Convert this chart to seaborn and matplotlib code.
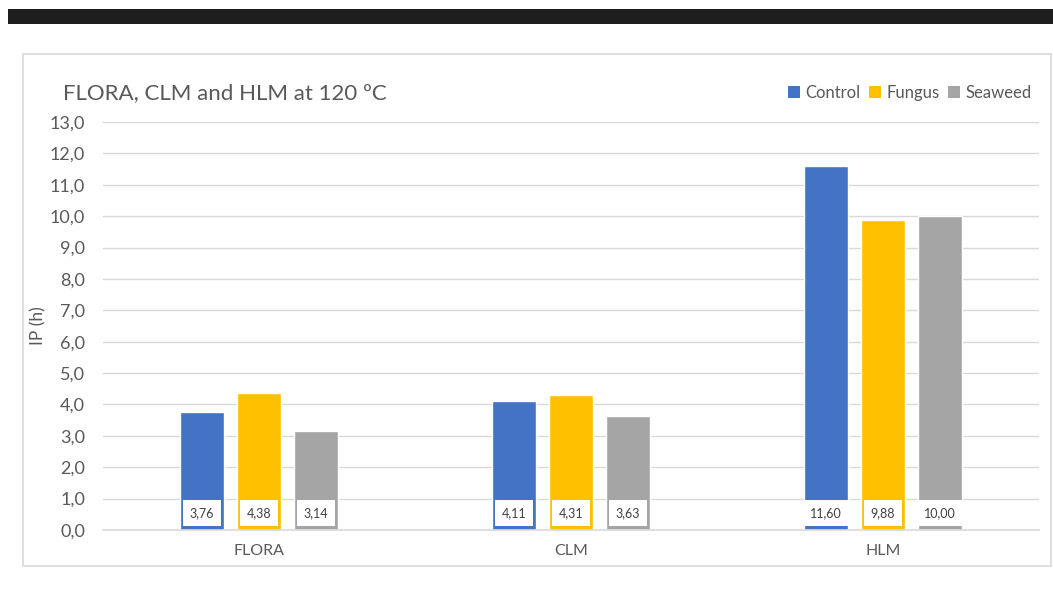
import matplotlib
matplotlib.use("Agg")
import matplotlib.pyplot as plt
from matplotlib.patches import Rectangle, Patch
from matplotlib.ticker import FuncFormatter, MultipleLocator
import pandas as pd
import seaborn as sns

# Induction period data (hours)
groups = ["FLORA", "CLM", "HLM"]
treatments = ["Control", "Fungus", "Seaweed"]
control = [3.76, 4.11, 11.60]
fungus = [4.38, 4.31, 9.88]
seaweed = [3.14, 3.63, 10.00]
colors = ["#4472C4", "#FFC000", "#A5A5A5"]

title = "FLORA, CLM and HLM at 120 ºC"
ylabel = "IP (h)"

df = pd.DataFrame({
    "group": groups * 3,
    "treatment": [t for t in treatments for _ in groups],
    "value": control + fungus + seaweed,
})

sns.set_theme(style="white")
plt.rcParams["font.family"] = ["Lato", "DejaVu Sans"]
text_gray = "#595959"
grid_gray = "#D9D9D9"

fig = plt.figure(figsize=(10.53, 5.96), dpi=100)
ax = fig.add_axes([103 / 1053, 66 / 596, 936 / 1053, 408 / 596])

sns.barplot(data=df, x="group", y="value", hue="treatment",
            order=groups, hue_order=treatments, palette=colors,
            saturation=1, width=0.548, gap=0.228, legend=False, ax=ax,
            errorbar=None, zorder=2)

ax.set_ylim(0, 13)
ax.set_xlim(-0.5, 2.5)
ax.yaxis.set_major_locator(MultipleLocator(1))
ax.yaxis.set_major_formatter(FuncFormatter(lambda v, p: f"{v:.1f}".replace(".", ",")))
ax.grid(axis="y", color=grid_gray, linewidth=1, zorder=0)
ax.set_axisbelow(True)
for s in ["top", "right", "left"]:
    ax.spines[s].set_visible(False)
ax.spines["bottom"].set_color(grid_gray)
ax.spines["bottom"].set_linewidth(1.2)
ax.tick_params(axis="y", length=0, pad=13, labelsize=13, labelcolor=text_gray)
ax.tick_params(axis="x", length=0, pad=10, labelsize=11.5, labelcolor=text_gray)
ax.set_xlabel("")
ax.set_ylabel(ylabel, fontsize=12.5, color=text_gray)
ax.yaxis.set_label_coords(-0.060, 0.5)

# Value labels in white boxes near the base of each bar
series = [control, fungus, seaweed]
for container, vals in zip(ax.containers, series):
    for bar, v in zip(container, vals):
        cx = bar.get_x() + bar.get_width() / 2
        ax.text(cx, 0.55, f"{v:.2f}".replace(".", ","), ha="center", va="center",
                fontsize=9, color="#404040", zorder=5,
                bbox=dict(boxstyle="square,pad=0.55", fc="white", ec="none"))

# Title
fig.text(63 / 1053, 1 - 93 / 596, title, fontsize=16, color=text_gray,
         ha="left", va="center")

# Legend
handles = [Patch(facecolor=c, edgecolor="none", label=t) for c, t in zip(colors, treatments)]
fig.legend(handles=handles, loc="center right", bbox_to_anchor=(1038 / 1053, 1 - 93 / 596),
           ncol=3, frameon=False, fontsize=12, labelcolor=text_gray,
           handlelength=0.75, handleheight=0.75, handletextpad=0.3,
           columnspacing=0.5, borderaxespad=0)

# Chart frame and header band
fig.add_artist(Rectangle((23 / 1053, 1 - 566 / 596), (1051 - 23) / 1053, (566 - 54) / 596,
                         transform=fig.transFigure, fill=False, ec=grid_gray, lw=1.2))
fig.add_artist(Rectangle((8 / 1053, 1 - 24 / 596), 1.0, 15 / 596,
                         transform=fig.transFigure, fc="#1E1E1E", ec="none"))

fig.savefig("out.png", dpi=100)
